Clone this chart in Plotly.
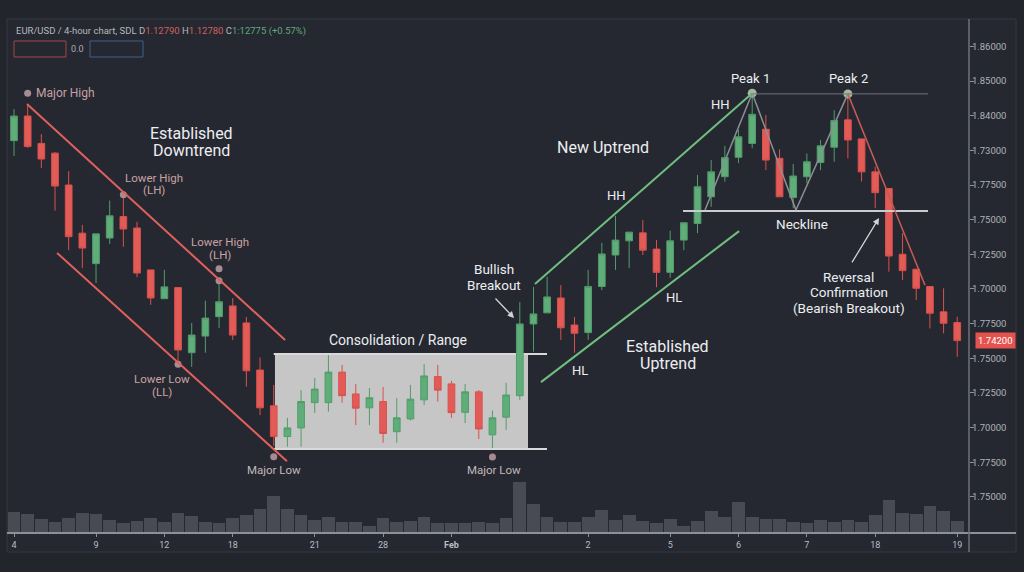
import plotly.graph_objects as go

# ---------------- data ----------------
OPEN = [1.8328,1.8399,1.8320,1.8292,1.8200,1.8061,1.7973,1.8047,1.8109,1.8076,
        1.7955,1.7872,1.7904,1.7716,1.7764,1.7820,1.7851,1.7802,1.7666,1.7563,
        1.7474,1.7499,1.7572,1.7572,1.7660,1.7597,1.7557,1.7575,1.7488,1.7525,
        1.7580,1.7647,1.7626,1.7544,1.7603,1.7479,1.7530,1.7592,1.7799,1.7831,
        1.7874,1.7796,1.7774,1.7907,1.7998,1.8039,1.8062,1.8015,1.7948,1.8041,
        1.8089,1.8166,1.8224,1.8280,1.8320,1.8361,1.8277,1.8164,1.8224,1.8265,
        1.8309,1.8388,1.8333,1.8238,1.8190,1.8000,1.7957,1.7907,1.7834,1.7803]
HIGH = [1.8419,1.8431,1.8347,1.8295,1.8240,1.8085,1.8059,1.8155,1.8172,1.8094,
        1.7955,1.7955,1.7904,1.7802,1.7866,1.7924,1.7874,1.7819,1.7702,1.7623,
        1.7528,1.7608,1.7643,1.7709,1.7681,1.7626,1.7614,1.7617,1.7585,1.7623,
        1.7683,1.7681,1.7635,1.7626,1.7608,1.7549,1.7629,1.7862,1.7906,1.7935,
        1.7911,1.7819,1.7955,1.8033,1.8111,1.8064,1.8099,1.8041,1.8068,1.8091,
        1.8229,1.8272,1.8313,1.8359,1.8465,1.8402,1.8303,1.8261,1.8291,1.8330,
        1.8416,1.8455,1.8333,1.8253,1.8190,1.8061,1.7957,1.7907,1.7902,1.7820]
LOW = [1.8284,1.8307,1.8249,1.8126,1.8012,1.7960,1.7917,1.8030,1.8022,1.7934,
       1.7854,1.7872,1.7683,1.7675,1.7716,1.7787,1.7753,1.7618,1.7536,1.7447,
       1.7445,1.7445,1.7542,1.7546,1.7572,1.7507,1.7507,1.7456,1.7456,1.7520,
       1.7565,1.7575,1.7528,1.7513,1.7467,1.7441,1.7493,1.7580,1.7719,1.7831,
       1.7753,1.7716,1.7753,1.7897,1.7955,1.7960,1.7998,1.7905,1.7932,1.8012,
       1.8061,1.8137,1.8210,1.8263,1.8306,1.8243,1.8166,1.8133,1.8205,1.8243,
       1.8267,1.8277,1.8210,1.8133,1.7950,1.7926,1.7868,1.7786,1.7772,1.7704]
CLOSE = [1.8399,1.8311,1.8275,1.8197,1.8051,1.8018,1.8059,1.8111,1.8073,1.7946,
         1.7874,1.7906,1.7724,1.7767,1.7816,1.7863,1.7767,1.7664,1.7557,1.7474,
         1.7499,1.7575,1.7611,1.7660,1.7592,1.7556,1.7586,1.7483,1.7528,1.7582,
         1.7649,1.7608,1.7543,1.7603,1.7496,1.7528,1.7594,1.7799,1.7828,1.7877,
         1.7788,1.7772,1.7907,1.8001,1.8041,1.8064,1.8012,1.7948,1.8039,1.8091,
         1.8195,1.8238,1.8279,1.8339,1.8404,1.8272,1.8166,1.8226,1.8267,1.8313,
         1.8386,1.8330,1.8238,1.8178,1.7995,1.7953,1.7902,1.7830,1.7801,1.7751]
VOLUME = [6400,5600,4300,3400,4600,5900,5700,3800,3000,3700,
          4600,3200,6100,5200,3400,2900,4400,5500,7200,11000,
          7200,5500,4000,4700,3400,3400,2200,4500,3200,3700,
          4900,2900,2900,3000,3300,2900,4400,15300,8600,4900,
          3200,3200,4900,7000,4000,5400,3700,2900,4100,2200,
          3700,6500,4900,9300,4900,4300,4100,3400,3100,4000,
          3400,3800,3200,5400,10000,6000,5600,8200,6600,3600]
CANDLE_X = list(range(len(OPEN)))

X_TICK_POS = [0, 6, 11, 16, 22, 27, 32, 42, 48, 53, 58, 63, 69]
X_TICK_TEXT = ["4", "9", "12", "18", "21", "28", "<b>Feb</b>", "2", "5", "6", "7", "18", "19"]

Y_TICK_VALS = [1.86, 1.85, 1.84, 1.83, 1.82, 1.81, 1.80, 1.79, 1.78, 1.77, 1.76, 1.75, 1.74, 1.73]
Y_TICK_TEXT = ["1.86000", "1.85000", "1.84000", "1.73000", "1.77500", "1.75000", "1.72500",
               "1.70000", "1.77500", "1.75000", "1.72500", "1.70000", "1.77500", "1.75000"]
LAST_PRICE_TEXT = "1.74200"

# ---------------- styling ----------------
BG = "#252830"
PAPER = "#22252c"
GREEN = "#5fae79"
GREEN_L = "#529c69"
RED = "#e35b57"
RED_L = "#d9514d"
WHITE = "#eceef1"
PINK = "#c9a2a4"
FONT = "Roboto"

fig = go.Figure()

fig.add_trace(go.Bar(
    x=CANDLE_X, y=VOLUME, yaxis="y2", width=0.93,
    marker=dict(color="#484b54", line=dict(width=0)),
    hoverinfo="skip", showlegend=False))

fig.add_trace(go.Candlestick(
    x=CANDLE_X, open=OPEN, high=HIGH, low=LOW, close=CLOSE,
    increasing=dict(fillcolor=GREEN, line=dict(color=GREEN_L, width=1)),
    decreasing=dict(fillcolor=RED, line=dict(color=RED_L, width=1)),
    whiskerwidth=0, hoverinfo="skip", showlegend=False))

# label dots (anchored on candle extremes)
dot_x = [1, 8, 15, 15, 12, 19, 35]
dot_y = [HIGH[1] + 0.0034, HIGH[8], HIGH[15] + 0.0034, HIGH[15], LOW[12], LOW[19] - 0.0031, LOW[35] - 0.0026]
fig.add_trace(go.Scatter(x=dot_x, y=dot_y, mode="markers",
                         marker=dict(size=7, color="#a68c92"), hoverinfo="skip", showlegend=False))
fig.add_trace(go.Scatter(x=[54, 61], y=[HIGH[54], HIGH[61] + 0.0008], mode="markers",
                         marker=dict(size=9, color="#9fba9c"), hoverinfo="skip", showlegend=False))

shapes = []
# panel
shapes.append(dict(type="rect", xref="paper", yref="paper", x0=0, x1=1.0489, y0=-0.037, y1=1,
                   line=dict(color="#353943", width=1), fillcolor=BG, layer="below"))
# consolidation range box
shapes.append(dict(type="rect", x0=19.09, x1=37.6, y0=1.7438, y1=1.7712,
                   fillcolor="#c6c6c7", line=dict(width=0), layer="below"))
for yy in (1.7438, 1.7712):
    shapes.append(dict(type="line", x0=19.0, x1=38.99, y0=yy, y1=yy,
                       line=dict(color="#d8d9db", width=2), layer="below"))
# downtrend channel
shapes.append(dict(type="line", x0=0.95, y0=1.8434, x1=19.83, y1=1.7753, line=dict(color="#e0605d", width=2)))
shapes.append(dict(type="line", x0=3.15, y0=1.8004, x1=19.97, y1=1.7403, line=dict(color="#e0605d", width=2)))
# uptrend channel
shapes.append(dict(type="line", x0=38.11, y0=1.7914, x1=54, y1=HIGH[54], line=dict(color="#6fbf80", width=2)))
shapes.append(dict(type="line", x0=38.55, y0=1.7631, x1=53.04, y1=1.8067, line=dict(color="#6fbf80", width=2)))
# double top
shapes.append(dict(type="line", x0=53.91, x1=66.86, y0=1.8463, y1=1.8463, line=dict(color="#6f737b", width=1)))
shapes.append(dict(type="line", x0=48.94, x1=66.86, y0=1.8125, y1=1.8125, line=dict(color="#c9cbcf", width=2)))
shapes.append(dict(type="line", x0=50.55, y0=1.8128, x1=54, y1=HIGH[54], line=dict(color="#8c9096", width=1.5)))
shapes.append(dict(type="line", x0=54, y0=HIGH[54], x1=57.2, y1=1.8128, line=dict(color="#8c9096", width=1.5)))
shapes.append(dict(type="line", x0=57.2, y0=1.8128, x1=61, y1=HIGH[61] + 0.0008, line=dict(color="#8c9096", width=1.5)))
shapes.append(dict(type="line", x0=61, y0=HIGH[61] + 0.0008, x1=66.64, y1=1.7911, line=dict(color="#c65a57", width=1.5)))
# axis lines
shapes.append(dict(type="line", xref="paper", yref="paper", x0=0, x1=1.0489, y0=0, y1=0,
                   line=dict(color="#8c9098", width=2)))
shapes.append(dict(type="line", xref="paper", yref="paper", x0=1, x1=1, y0=-0.037, y1=1,
                   line=dict(color="#6e727a", width=1.5)))
# header boxes
shapes.append(dict(type="rect", xref="paper", yref="paper", x0=0.0073, x1=0.0613, y0=0.9261, y1=0.9572,
                   line=dict(color="#a04848", width=1)))
shapes.append(dict(type="rect", xref="paper", yref="paper", x0=0.0863, x1=0.1414, y0=0.9261, y1=0.9572,
                   line=dict(color="#3d6193", width=1)))

ann = []


def label(x, y, lines, size, color=WHITE, spacing=None, xanchor="center"):
    n = len(lines)
    sp = spacing if spacing else size * 1.1
    for k, t in enumerate(lines):
        ann.append(dict(x=x, y=y, text=t, showarrow=False, xanchor=xanchor, yanchor="middle",
                        yshift=((n - 1) / 2 - k) * sp,
                        font=dict(family=FONT, size=size, color=color)))


label(1.46, 1.8465, ["Major High"], 12, "#c4a1a5", xanchor="left")
label(13.02, 1.8323, ["Established", "Downtrend"], 16, spacing=17)
label(10.24, 1.8203, ["Lower High", "(LH)"], 11.5, PINK, spacing=12.5)
label(15.07, 1.8017, ["Lower High", "(LH)"], 11.5, PINK, spacing=12.5)
label(10.83, 1.7621, ["Lower Low", "(LL)"], 11.5, PINK, spacing=12.5)
label(19.02, 1.7378, ["Major Low"], 11.5, "#c2b8ba")
label(35.11, 1.7378, ["Major Low"], 11.5, "#c2b8ba")
label(28.09, 1.7753, ["Consolidation / Range"], 14)
label(35.11, 1.7935, ["Bullish", "Breakout"], 13.5, spacing=16)
label(43.09, 1.8307, ["New Uptrend"], 16)
label(44.04, 1.8171, ["HH"], 13)
label(51.65, 1.8431, ["HH"], 13)
label(48.28, 1.7874, ["HL"], 13)
label(41.40, 1.7666, ["HL"], 13)
label(47.84, 1.7709, ["Established", "Uptrend"], 16, spacing=17)
label(53.84, 1.8506, ["Peak 1"], 13)
label(61.01, 1.8506, ["Peak 2"], 13)
label(57.64, 1.8087, ["Neckline"], 13.5)
label(61.08, 1.7890, ["Reversal", "Confirmation", "(Bearish Breakout)"], 13.5, spacing=15.5)

# arrows
ann.append(dict(x=36.58, y=1.7816, text="", showarrow=True, ax=-20, ay=-21, arrowhead=2,
                arrowsize=1, arrowwidth=1.3, arrowcolor="#cfd2d6", standoff=0))
ann.append(dict(x=63.28, y=1.8105, text="", showarrow=True, ax=-28, ay=46, arrowhead=2,
                arrowsize=1, arrowwidth=1.3, arrowcolor="#cfd2d6", standoff=0))

# header text
hdr = ("<span style='color:#b4b8bf'>EUR/USD / 4-hour chart, SDL D</span>"
       "<span style='color:#d0605f'>1.12790</span>"
       "<span style='color:#b4b8bf'> H</span>"
       "<span style='color:#d0605f'>1.12780</span>"
       "<span style='color:#b4b8bf'> C</span>"
       "<span style='color:#5fa87a'>1:12775 (+0.57%)</span>")
ann.append(dict(xref="paper", yref="paper", x=0.0073, y=0.9767, text=hdr, showarrow=False,
                xanchor="left", yanchor="middle", font=dict(family=FONT, size=9.5, color="#b4b8bf")))
ann.append(dict(xref="paper", yref="paper", x=0.0738, y=0.9416, text="0.0", showarrow=False,
                xanchor="center", yanchor="middle", font=dict(family=FONT, size=9, color="#a9adb4")))
# last price badge
ann.append(dict(xref="paper", yref="y", x=1.0062, y=CLOSE[-1], text=LAST_PRICE_TEXT, showarrow=False,
                xanchor="left", yanchor="middle", bgcolor="#e5534f", borderpad=2,
                font=dict(family=FONT, size=9.5, color="#ffffff")))

fig.update_layout(
    width=1024, height=572,
    margin=dict(l=7, r=55, t=19, b=39),
    paper_bgcolor=PAPER, plot_bgcolor=BG,
    font=dict(family=FONT, color="#b4b8bf"),
    showlegend=False,
    bargap=0,
    xaxis=dict(range=[-0.512, 69.86], showgrid=False, zeroline=False, showline=False,
               tickvals=X_TICK_POS, ticktext=X_TICK_TEXT, ticks="outside", ticklen=3,
               tickcolor="#8c9098", tickfont=dict(family=FONT, size=9, color="#b9bdc4"),
               rangeslider=dict(visible=False), fixedrange=True),
    yaxis=dict(range=[1.71957, 1.86791], side="right", showgrid=False, zeroline=False, showline=False,
               tickvals=Y_TICK_VALS, ticktext=Y_TICK_TEXT, ticks="outside", ticklen=4,
               ticklabelstandoff=-4,
               tickcolor="#8c9098", tickfont=dict(family=FONT, size=9.5, color="#aeb2ba"), fixedrange=True),
    yaxis2=dict(range=[0, 154200], overlaying="y", visible=False, fixedrange=True),
    shapes=shapes,
    annotations=ann,
)

fig.write_html(
    "out.html",
    config={"displayModeBar": False, "staticPlot": True},
    post_script="document.body.style.margin='0';document.body.style.background='#22252c';",
)
